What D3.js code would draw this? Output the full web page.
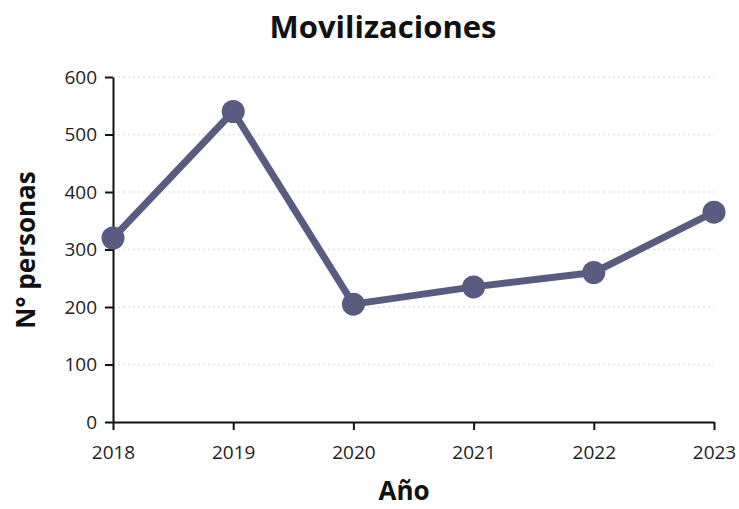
<!DOCTYPE html>
<html><head><meta charset="utf-8">
<script src="https://cdn.jsdelivr.net/npm/d3@7"></script>
<style>body{margin:0;background:#fff;} text{font-family:"Open Sans",sans-serif;}</style>
</head><body>
<svg id="c" width="739" height="509"></svg>
<script>
const years = [2018, 2019, 2020, 2021, 2022, 2023];
const personas = [320, 540, 205, 235, 260, 365];
const yTicks = [0, 100, 200, 300, 400, 500, 600];
const title = "Movilizaciones";
const xLabel = "Año";
const yLabel = "N° personas";

const svg = d3.select("#c");
const m = {left: 113, right: 25, top: 77, bottom: 87};
const W = 739, H = 509;
const x = d3.scaleLinear().domain([2018, 2023]).range([m.left, W - m.right]);
const y = d3.scaleLinear().domain([0, 600]).range([H - m.bottom, m.top]);
const color = "#5a5b81";

// grid
svg.append("g").selectAll("line").data(yTicks.filter(d => d > 0)).join("line")
  .attr("x1", m.left).attr("x2", W - m.right)
  .attr("y1", d => y(d)).attr("y2", d => y(d))
  .attr("stroke", "#e2e2e2").attr("stroke-width", 1.5).attr("stroke-dasharray", "2,3");

// axes
const xa = svg.append("g").attr("transform", `translate(0,${y(0)})`)
  .call(d3.axisBottom(x).tickValues(years).tickFormat(d3.format("d")).tickSize(8).tickSizeOuter(0).tickPadding(16));
const ya = svg.append("g").attr("transform", `translate(${m.left},0)`)
  .call(d3.axisLeft(y).tickValues(yTicks).tickSize(8).tickSizeOuter(0).tickPadding(8));
[xa, ya].forEach(a => {
  a.select(".domain").attr("stroke", "#111").attr("stroke-width", 2);
  a.selectAll(".tick line").attr("stroke", "#111").attr("stroke-width", 2);
  a.selectAll(".tick text").style("font-size", "19px").attr("fill", "#222").style("font-family", "Open Sans");
});

// line
const pts = years.map((yr, i) => ({yr, v: personas[i]}));
svg.append("path").datum(pts)
  .attr("d", d3.line().x(d => x(d.yr)).y(d => y(d.v)))
  .attr("fill", "none").attr("stroke", color).attr("stroke-width", 7).attr("stroke-linejoin", "round");
svg.append("g").selectAll("circle").data(pts).join("circle")
  .attr("cx", d => x(d.yr)).attr("cy", d => y(d.v)).attr("r", 11.5).attr("fill", color);

// labels
svg.append("text").attr("x", 383).attr("y", 38).attr("text-anchor", "middle")
  .style("font-size", "31px").attr("font-weight", 700).attr("fill", "#111").text(title);
svg.append("text").attr("x", 404).attr("y", 500).attr("text-anchor", "middle")
  .style("font-size", "26px").attr("font-weight", 700).attr("fill", "#111").text(xLabel);
svg.append("text").attr("transform", `translate(35,250) rotate(-90)`).attr("text-anchor", "middle")
  .style("font-size", "26px").attr("font-weight", 700).attr("fill", "#111").text(yLabel);
</script>
</body></html>
